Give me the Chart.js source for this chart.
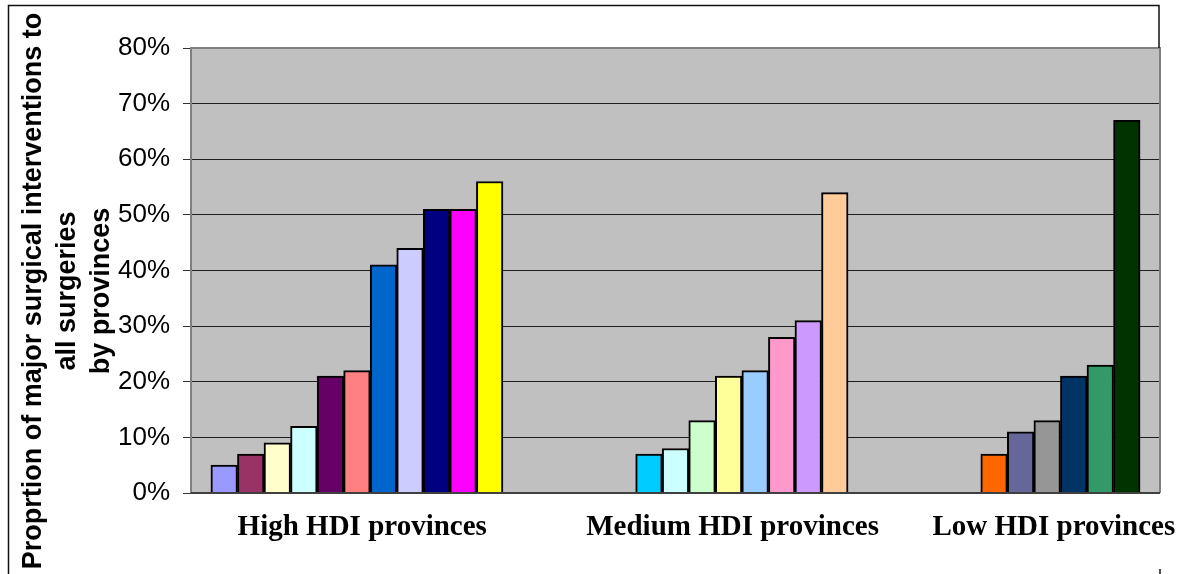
<!DOCTYPE html>
<html>
<head>
<meta charset="utf-8">
<title>Major surgical interventions by province HDI group</title>
<script src="https://cdn.jsdelivr.net/npm/chart.js@4.4.1/dist/chart.umd.min.js"></script>
<style>
  html, body { margin: 0; padding: 0; background: #ffffff; }
  canvas { display: block; }
</style>
</head>
<body>
<canvas id="chart" width="1193" height="574"></canvas>
<script>
// Province groups and the share (%) of major surgical interventions per province
const categories = ['High HDI provinces', 'Medium HDI provinces', 'Low HDI provinces'];
const highValues = [5, 7, 9, 12, 21, 22, 41, 44, 51, 51, 56];
const mediumValues = [7, 8, 13, 21, 22, 28, 31, 54];
const lowValues = [7, 11, 13, 21, 23, 67];

const highColors = ['#9999FF', '#993366', '#FFFFCC', '#CCFFFF', '#660066', '#FF8080',
                    '#0066CC', '#CCCCFF', '#000080', '#FF00FF', '#FFFF00'];
const mediumColors = ['#00CCFF', '#CCFFFF', '#CCFFCC', '#FFFF99', '#99CCFF', '#FF99CC',
                      '#CC99FF', '#FFCC99'];
const lowColors = ['#FF6600', '#666699', '#969696', '#003366', '#339966', '#003300'];

const yTickValues = [0, 10, 20, 30, 40, 50, 60, 70, 80];
const yTitleLines = ['Proprtion of major surgical interventions to', 'all surgeries', 'by provinces'];

// Horizontal layout: one axis unit is one bar slot
const slotCount = 36.5;
const groupStart = [0.75, 16.75, 29.75];
const labelAt = [6.45, 20.4, 32.5];

const groupValues = [highValues, mediumValues, lowValues];
const points = [];
groupValues.forEach((vals, g) => {
  vals.forEach((v, i) => points.push({ x: groupStart[g] + 0.5 + i, y: v }));
});
const barColors = [].concat(highColors, mediumColors, lowColors);

const ARIAL = 'Arial, "Liberation Sans", sans-serif';
const TIMES = '"Times New Roman", "Liberation Serif", serif';

// Grey plot background
const plotBackground = {
  id: 'plotBackground',
  beforeDraw(chart) {
    const { ctx, chartArea: a } = chart;
    ctx.save();
    ctx.fillStyle = '#C0C0C0';
    ctx.fillRect(a.left, a.top, a.right - a.left, a.bottom - a.top);
    ctx.restore();
  }
};

// Plot border, outer frame and the rotated three-line axis title
const frameAndTitle = {
  id: 'frameAndTitle',
  afterDraw(chart) {
    const { ctx, chartArea: a } = chart;
    ctx.save();
    ctx.strokeStyle = '#808080';
    ctx.lineWidth = 2;
    ctx.beginPath();
    ctx.moveTo(a.left, a.bottom);
    ctx.lineTo(a.left, a.top);
    ctx.lineTo(a.right, a.top);
    ctx.lineTo(a.right, a.bottom);
    ctx.stroke();

    ctx.strokeStyle = '#404040';
    ctx.beginPath();
    ctx.moveTo(a.left, a.bottom);
    ctx.lineTo(a.right, a.bottom);
    ctx.stroke();

    // outer frame
    ctx.strokeStyle = '#111111';
    ctx.lineWidth = 1.5;
    ctx.beginPath();
    ctx.moveTo(8.5, chart.height);
    ctx.lineTo(8.5, 5.5);
    ctx.lineTo(a.right - 1, 5.5);
    ctx.lineTo(a.right - 1, a.top);
    ctx.stroke();
    ctx.beginPath();
    ctx.moveTo(a.right, chart.height - 5);
    ctx.lineTo(a.right, chart.height);
    ctx.stroke();

    // axis title
    const size = 27;
    ctx.fillStyle = '#000000';
    ctx.font = 'bold ' + size + 'px ' + ARIAL;
    ctx.textAlign = 'center';
    ctx.textBaseline = 'alphabetic';
    const centerY = 291;
    yTitleLines.forEach((line, i) => {
      ctx.save();
      ctx.translate(41 + i * 34, centerY);
      ctx.rotate(-Math.PI / 2);
      ctx.fillText(line, 0, 0);
      ctx.restore();
    });
    ctx.restore();
  }
};

new Chart(document.getElementById('chart'), {
  type: 'bar',
  data: {
    datasets: [{
      data: points,
      backgroundColor: barColors,
      borderColor: '#000000',
      borderWidth: 2,
      categoryPercentage: 1,
      barPercentage: 1
    }]
  },
  options: {
    responsive: false,
    animation: false,
    events: [],
    layout: { padding: { left: 0, top: 48, right: 33, bottom: 0 }, autoPadding: false },
    plugins: { legend: { display: false }, tooltip: { enabled: false } },
    scales: {
      x: {
        type: 'linear',
        offset: false,
        min: 0,
        max: slotCount,
        grid: { display: false, drawTicks: false },
        border: { display: false },
        afterBuildTicks(scale) {
          scale.ticks = labelAt.map(v => ({ value: v }));
        },
        afterFit(scale) {
          scale.height = 81;
          scale.paddingLeft = 0;
          scale.paddingRight = 0;
        },
        ticks: {
          autoSkip: false,
          maxRotation: 0,
          minRotation: 0,
          padding: 17,
          color: '#000000',
          font: { family: TIMES, size: 29, weight: 'bold' },
          callback: (value, index) => categories[index]
        }
      },
      y: {
        min: 0,
        max: 80,
        afterBuildTicks(scale) {
          scale.ticks = yTickValues.map(v => ({ value: v }));
        },
        afterFit(scale) {
          scale.width = 191;
          scale.paddingTop = 0;
          scale.paddingBottom = 0;
        },
        grid: { color: '#1e1e1e', lineWidth: 1, tickLength: 8, tickColor: '#333333' },
        border: { color: '#404040', width: 2 },
        ticks: {
          padding: 13,
          color: '#000000',
          font: { family: ARIAL, size: 26 },
          callback: v => v + '%'
        }
      }
    }
  },
  plugins: [plotBackground, frameAndTitle]
});
</script>
</body>
</html>
